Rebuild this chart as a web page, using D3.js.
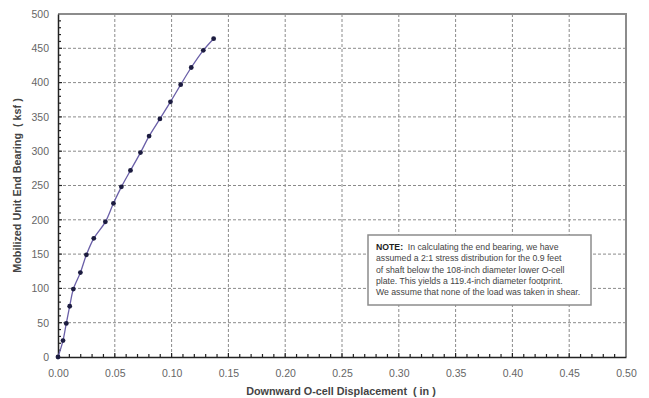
<!DOCTYPE html>
<html>
<head>
<meta charset="utf-8">
<script src="https://cdn.jsdelivr.net/npm/d3@7"></script>
<style>
  body { margin: 0; background: #fff; }
  svg { display: block; font-family: "Liberation Sans", Arial, sans-serif; }
</style>
</head>
<body>
<svg id="chart" width="649" height="398"></svg>
<script>
// Load test data
const displacement = [0, 0.0044, 0.0073, 0.0103, 0.0135, 0.0197, 0.025, 0.0315, 0.0417, 0.0488,
  0.0558, 0.0638, 0.0726, 0.0802, 0.0897, 0.099, 0.108, 0.1173, 0.1279, 0.137]
const bearing = [0, 24, 49, 74, 99, 123, 149, 173, 197, 224,
  248, 272, 298, 322, 347, 372, 397, 422, 447, 464]

const xTicks = [0, 0.05, 0.10, 0.15, 0.20, 0.25, 0.30, 0.35, 0.40, 0.45, 0.50]
const yTicks = [0, 50, 100, 150, 200, 250, 300, 350, 400, 450, 500]

const noteLines = [
  "In calculating the end bearing, we have",
  "assumed a 2:1 stress distribution for the 0.9 feet",
  "of shaft below the 108-inch diameter lower O-cell",
  "plate.  This yields a 119.4-inch diameter footprint.",
  "We assume that none of the load was taken in shear."
]

const points = displacement.map((d, i) => ({x: d, y: bearing[i]}))

const margin = {left: 58, right: 23, top: 14, bottom: 41}
const width = 649 - margin.left - margin.right
const height = 398 - margin.top - margin.bottom

const svg = d3.select('#chart')
const g = svg.append('g').attr('transform', `translate(${margin.left},${margin.top})`)

const x = d3.scaleLinear().domain([0, 0.5]).range([0, width])
const y = d3.scaleLinear().domain([0, 500]).range([height, 0])

// Grid lines
g.selectAll('.vgrid')
  .data(xTicks.slice(1, -1))
  .join('line')
  .attr('x1', d => x(d)).attr('x2', d => x(d))
  .attr('y1', 0).attr('y2', height)
  .attr('stroke', '#8a8a8a').attr('stroke-dasharray', '3,2')

g.selectAll('.hgrid')
  .data(yTicks.slice(1, -1))
  .join('line')
  .attr('x1', 0).attr('x2', width)
  .attr('y1', d => y(d)).attr('y2', d => y(d))
  .attr('stroke', '#8a8a8a').attr('stroke-dasharray', '3,2')

// Top and right frame
g.append('path')
  .attr('d', `M0,0H${width}V${height}`)
  .attr('fill', 'none').attr('stroke', '#8c8c8c').attr('stroke-width', 2)

// Axes
const xAxis = d3.axisBottom(x).tickValues(xTicks).tickFormat(d3.format('.2f')).tickSize(0).tickPadding(13)
const yAxis = d3.axisLeft(y).tickValues(yTicks).tickSize(0).tickPadding(9)

g.append('g').attr('transform', `translate(0,${height})`).call(xAxis)
  .call(a => a.select('.domain').attr('stroke', '#222').attr('stroke-width', 1.5))
  .call(a => a.selectAll('text').attr('fill', '#666').style('font-size', '10.5px'))

g.append('g').call(yAxis)
  .call(a => a.select('.domain').attr('stroke', '#222').attr('stroke-width', 1.5))
  .call(a => a.selectAll('text').attr('fill', '#666').style('font-size', '10.5px'))

// Minor ticks
g.selectAll('.xminor')
  .data(d3.range(1, 50))
  .join('line')
  .attr('x1', d => x(d / 100)).attr('x2', d => x(d / 100))
  .attr('y1', height).attr('y2', d => d % 5 === 0 ? height - 4 : height - 3)
  .attr('stroke', '#222').attr('stroke-width', 1.2)

g.selectAll('.yminor')
  .data(d3.range(1, 50))
  .join('line')
  .attr('x1', 0).attr('x2', d => d % 5 === 0 ? 4 : 3)
  .attr('y1', d => y(d * 10)).attr('y2', d => y(d * 10))
  .attr('stroke', '#222').attr('stroke-width', 1.2)

// Curve and markers
const line = d3.line()
  .x(d => x(d.x)).y(d => y(d.y))
  .curve(d3.curveCatmullRom)

g.append('path')
  .datum(points)
  .attr('d', line)
  .attr('fill', 'none').attr('stroke', '#6a5fa8').attr('stroke-width', 1.3)

g.selectAll('.pt')
  .data(points)
  .join('circle')
  .attr('cx', d => x(d.x)).attr('cy', d => y(d.y))
  .attr('r', 2.4)
  .attr('fill', '#1c1c40')

// Axis titles
svg.append('text')
  .attr('x', margin.left + width / 2 - 1).attr('y', 395)
  .attr('text-anchor', 'middle')
  .style('font-size', '10.8px').style('font-weight', 'bold').attr('fill', '#444')
  .attr('xml:space', 'preserve')
  .text('Downward O-cell Displacement  ( in )')

svg.append('text')
  .attr('transform', `translate(21,${margin.top + height / 2}) rotate(-90)`)
  .attr('text-anchor', 'middle')
  .style('font-size', '10.8px').style('font-weight', 'bold').attr('fill', '#444')
  .attr('xml:space', 'preserve')
  .text('Mobilized Unit End Bearing  ( ksf )')

// Note box
const box = svg.append('g').attr('transform', 'translate(368,235)')
box.append('rect')
  .attr('width', 223).attr('height', 70)
  .attr('fill', '#fff').attr('stroke', '#8c8c8c').attr('stroke-width', 1.5)

const note = box.append('text')
  .attr('x', 8).attr('y', 15)
  .style('font-size', '8.7px').attr('fill', '#444')

noteLines.forEach((t, i) => {
  const ts = note.append('tspan').attr('x', 8).attr('dy', i === 0 ? 0 : 11.3)
  if (i === 0) {
    ts.append('tspan').style('font-weight', 'bold').attr('fill', '#222').text('NOTE:')
    ts.append('tspan').attr('xml:space', 'preserve').text('  ' + t)
  } else {
    ts.text(t)
  }
})
</script>
</body>
</html>
